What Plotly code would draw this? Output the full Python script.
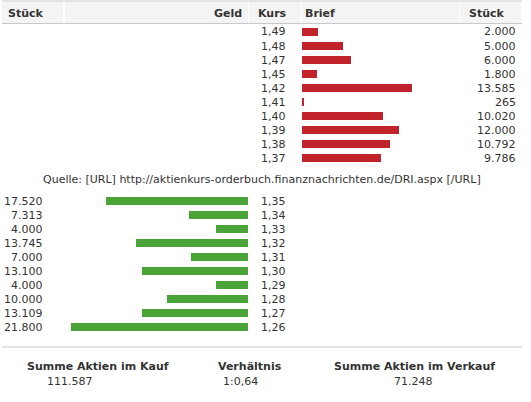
import plotly.graph_objects as go

W, H = 531, 402

# ---- data ----
sell_kurs = ["1,49", "1,48", "1,47", "1,45", "1,42", "1,41", "1,40", "1,39", "1,38", "1,37"]
sell_stueck = [2000, 5000, 6000, 1800, 13585, 265, 10020, 12000, 10792, 9786]
buy_kurs = ["1,35", "1,34", "1,33", "1,32", "1,31", "1,30", "1,29", "1,28", "1,27", "1,26"]
buy_stueck = [17520, 7313, 4000, 13745, 7000, 13100, 4000, 10000, 13109, 21800]
headers = ["Stück", "Geld", "Kurs", "Brief", "Stück"]
source_text = "Quelle: [URL] http://aktienkurs-orderbuch.finanznachrichten.de/DRI.aspx [/URL]"
summary_titles = ["Summe Aktien im Kauf", "Verhältnis", "Summe Aktien im Verkauf"]
summary_values = ["111.587", "1:0,64", "71.248"]

RED = "#c1232a"
GREEN = "#4aa336"
TXT = "#333333"
FONT = "DejaVu Sans"
FS = 11


def px_x(p):
    return p / W


def px_y(p):
    return 1 - p / H


def fmt(v):
    return f"{v:,}".replace(",", ".")


scale = 0.00812  # px per share
sell_dom = (302, 459)
buy_dom = (65, 248)

fig = go.Figure()
fig.add_trace(go.Bar(
    y=list(range(len(sell_kurs))), x=sell_stueck, orientation="h",
    marker=dict(color=RED, line=dict(width=0)), width=0.57,
    xaxis="x2", yaxis="y2", hoverinfo="skip",
))
fig.add_trace(go.Bar(
    y=list(range(len(buy_kurs))), x=buy_stueck, orientation="h",
    marker=dict(color=GREEN, line=dict(width=0)), width=0.57,
    xaxis="x", yaxis="y", hoverinfo="skip",
))

ax_common = dict(showgrid=False, zeroline=False, showticklabels=False, ticks="", showline=False, fixedrange=True)

fig.update_layout(
    width=W, height=H, margin=dict(l=0, r=0, t=0, b=0),
    paper_bgcolor="white", plot_bgcolor="rgba(0,0,0,0)",
    showlegend=False, bargap=0,
    xaxis=dict(domain=[px_x(buy_dom[0]), px_x(buy_dom[1])],
               range=[(buy_dom[1] - buy_dom[0]) / scale, 0], anchor="y", **ax_common),
    yaxis=dict(domain=[px_y(334), px_y(194)], range=[9.5, -0.5], anchor="x", **ax_common),
    xaxis2=dict(domain=[px_x(sell_dom[0]), px_x(sell_dom[1])],
                range=[0, (sell_dom[1] - sell_dom[0]) / scale], anchor="y2", **ax_common),
    yaxis2=dict(domain=[px_y(165), px_y(25)], range=[9.5, -0.5], anchor="x2", **ax_common),
)

shapes = []
# header cells
for x0, x1 in [(2, 63), (65, 248), (249, 301), (302, 459), (460, 521)]:
    shapes.append(dict(type="rect", xref="paper", yref="paper",
                       x0=px_x(x0), x1=px_x(x1), y0=px_y(23), y1=px_y(2),
                       fillcolor="#f4f4f4", line=dict(width=0), layer="below"))
shapes.append(dict(type="line", xref="paper", yref="paper", x0=px_x(2), x1=px_x(522),
                   y0=px_y(1), y1=px_y(1), line=dict(color="#c8c8c8", width=1)))
shapes.append(dict(type="line", xref="paper", yref="paper", x0=px_x(2), x1=px_x(522),
                   y0=px_y(23.5), y1=px_y(23.5), line=dict(color="#c8c8c8", width=1)))
shapes.append(dict(type="line", xref="paper", yref="paper", x0=px_x(2), x1=px_x(522),
                   y0=px_y(347), y1=px_y(347), line=dict(color="#c8c8c8", width=1)))
fig.update_layout(shapes=shapes)

ann = []


def add_text(text, x, y, xanchor, bold=False, yref="paper", size=FS):
    ann.append(dict(text=f"<b>{text}</b>" if bold else text, x=x, y=y, xref="paper", yref=yref,
                    xanchor=xanchor, yanchor="middle", showarrow=False,
                    font=dict(family=FONT, size=size, color=TXT)))


# headers
add_text(headers[0], px_x(6), px_y(13), "left", bold=True)
add_text(headers[1], px_x(244), px_y(13), "right", bold=True)
add_text(headers[2], px_x(289), px_y(13), "right", bold=True)
add_text(headers[3], px_x(303), px_y(13), "left", bold=True)
add_text(headers[4], px_x(507), px_y(13), "right", bold=True)

for i, (k, s) in enumerate(zip(sell_kurs, sell_stueck)):
    add_text(k, px_x(288), i, "right", yref="y2")
    add_text(fmt(s), px_x(518), i, "right", yref="y2")

add_text(source_text, px_x(262), px_y(179), "center")

for i, (k, s) in enumerate(zip(buy_kurs, buy_stueck)):
    add_text(fmt(s), px_x(44.5), i, "right", yref="y")
    add_text(k, px_x(288), i, "right", yref="y")

for t, v, xt, xv in zip(summary_titles, summary_values, [98, 250, 414], [70, 240, 413]):
    add_text(t, px_x(xt), px_y(366), "center", bold=True)
    add_text(v, px_x(xv), px_y(381), "center")

fig.update_layout(annotations=ann)
fig.write_html("out.html", config={"displayModeBar": False},
               post_script="document.body.style.margin='0';document.body.style.padding='0';")
